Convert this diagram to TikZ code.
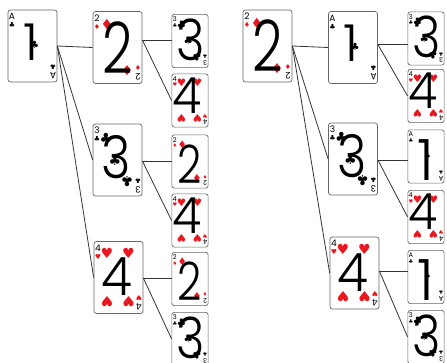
\documentclass[tikz,border=0pt]{standalone}
\usepackage{fontspec}
\setmainfont{Poppins}
\newfontfamily\digitfont{Poppins Light}
\newfontfamily\suitfont{DejaVu Sans}
\definecolor{suitred}{RGB}{232,24,32}
\newcommand{\clb}{{\suitfont ♣}}
\newcommand{\dia}{\textcolor{suitred}{\suitfont ♦}}
\newcommand{\hrt}{\textcolor{suitred}{\suitfont ♥}}
\newcommand{\dsize}[1]{\digitfont\fontsize{#1}{#1}\selectfont}
\tikzset{every picture/.style={x=1pt,y=-1pt}}
\tikzset{card/.style={rectangle,rounded corners=2.5pt,draw=black!60,fill=white,line width=.7pt,minimum width=49,minimum height=72,inner sep=0pt}}
\tikzset{big/.style={scale=1}}
\tikzset{small/.style={scale=.74}}
\tikzset{digit/.style={inner sep=0pt}}
\tikzset{big1/.style={font=\dsize{51},xshift=-2pt,yshift=4pt}}
\tikzset{big2/.style={font=\dsize{71},xscale=.75}}
\tikzset{big3/.style={font=\dsize{59},xscale=.85,xshift=-1pt,yshift=2.5pt}}
\tikzset{big4/.style={font=\dsize{53},xscale=.95,xshift=-2pt,yshift=.5pt}}
\tikzset{small1/.style={font=\dsize{57},yshift=-3.5pt}}
\tikzset{small2/.style={font=\dsize{53},xscale=.8,yshift=-2.5pt}}
\tikzset{small3/.style={font=\dsize{57},xscale=.85,xshift=1pt,yshift=1.5pt}}
\tikzset{small4/.style={font=\dsize{50},xscale=.95,xshift=-3pt,yshift=5pt}}
\tikzset{pip/.style={inner sep=0pt,font=\fontsize{14}{14}\selectfont}}
\tikzset{tinypip/.style={inner sep=0pt,font=\fontsize{7}{7}\selectfont}}
\tikzset{cornerno/.style={inner sep=0pt,font=\fontsize{9}{9}\selectfont}}
\tikzset{edge/.style={draw=black!80,line width=.8pt}}
\newcommand{\corners}[2]{%
  \node [cornerno] at (-20.5,-29.5) {#1};
  \node [tinypip] at (-20.5,-21) {#2};
  \node [cornerno,rotate=180] at (20.5,29.5) {#1};
  \node [tinypip,rotate=180] at (20.5,21) {#2};}
\newcommand{\pipsone}{\node [pip,font=\fontsize{10}{10}\selectfont] at (2,-1) {\clb};}
\newcommand{\pipstwo}{\node [pip] at (-10.5,-23) {\dia};
  \node [pip,rotate=180] at (9.5,23) {\dia};}
\newcommand{\pipsthree}{\node [pip] at (-11.5,-22) {\clb};
  \node [pip] at (-2.5,0) {\clb};
  \node [pip,rotate=180] at (9.5,22) {\clb};}
\newcommand{\pipsfour}{\node [pip] at (-11.5,-24) {\hrt};
  \node [pip] at (10,-24) {\hrt};
  \node [pip,rotate=180] at (-11.5,24) {\hrt};
  \node [pip,rotate=180] at (10,24) {\hrt};}
\newcommand{\playcard}[7]{%
  \begin{scope}[shift={(#2)},#3,transform shape]
  \node [card] (#1) at (0,0) {};
  #7
  \corners{#5}{#6}
  \end{scope}
  \node [digit,#3#4] at (#2) {#4};}

\begin{document}
\begin{tikzpicture}
\useasboundingbox (0,0) rectangle (447,363);
\playcard{la}{32.5,46}{big}{1}{A}{\clb}{\pipsone}
\playcard{l2}{117.5,47.5}{big}{2}{2}{\dia}{\pipstwo}
\playcard{l3}{117.5,160}{big}{3}{3}{\clb}{\pipsthree}
\playcard{l4}{118.5,277.5}{big}{4}{4}{\hrt}{\pipsfour}
\playcard{l23}{190,41}{small}{3}{3}{\clb}{\pipsthree}
\playcard{l24}{190,100.5}{small}{4}{4}{\hrt}{\pipsfour}
\playcard{l32}{190,161.5}{small}{2}{2}{\dia}{\pipstwo}
\playcard{l34}{190,220.5}{small}{4}{4}{\hrt}{\pipsfour}
\playcard{l42}{190,279}{small}{2}{2}{\dia}{\pipstwo}
\playcard{l43}{190,339}{small}{3}{3}{\clb}{\pipsthree}

\playcard{r2}{267.5,46}{big}{2}{2}{\dia}{\pipstwo}
\playcard{ra}{353,47.5}{big}{1}{A}{\clb}{\pipsone}
\playcard{r3}{353,159}{big}{3}{3}{\clb}{\pipsthree}
\playcard{r4}{354.5,273}{big}{4}{4}{\hrt}{\pipsfour}
\playcard{ra3}{426,38.5}{small}{3}{3}{\clb}{\pipsthree}
\playcard{ra4}{426,96}{small}{4}{4}{\hrt}{\pipsfour}
\playcard{r3a}{426,156.5}{small}{1}{A}{\clb}{\pipsone}
\playcard{r34}{426,217}{small}{4}{4}{\hrt}{\pipsfour}
\playcard{r4a}{426,277}{small}{1}{A}{\clb}{\pipsone}
\playcard{r43}{426,337}{small}{3}{3}{\clb}{\pipsthree}

\coordinate (l2o) at (l2.east |- 0,40);
\coordinate (l3o) at (l3.east |- 0,161);
\coordinate (l4o) at (l4.east |- 0,278);
\coordinate (rao) at (ra.east |- 0,44.5);
\coordinate (r3o) at (r3.east |- 0,160);
\coordinate (r4o) at (r4.east |- 0,271);

\draw [edge] (la.east) -- (l2.west);
\draw [edge] (la.east) -- (l3.west);
\draw [edge] (la.east) -- (l4.west);
\draw [edge] (l2o) -- (l23.west |- l2o);
\draw [edge] (l2o) -- (l24.west);
\draw [edge] (l3o) -- (l32.west |- l3o);
\draw [edge] (l3o) -- (l34.west);
\draw [edge] (l4o) -- (l42.west |- l4o);
\draw [edge] (l4o) -- (l43.west);

\draw [edge] (r2.east) -- (ra.west);
\draw [edge] (r2.east) -- (r3.west);
\draw [edge] (r2.east) -- (r4.west);
\draw [edge] (rao) -- (ra3.west |- rao);
\draw [edge] (rao) -- (ra4.west);
\draw [edge] (r3o) -- (r3a.west |- r3o);
\draw [edge] (r3o) -- (r34.west);
\draw [edge] (r4o) -- (r4a.west |- r4o);
\draw [edge] (r4o) -- (r43.west);
\end{tikzpicture}
\end{document}
